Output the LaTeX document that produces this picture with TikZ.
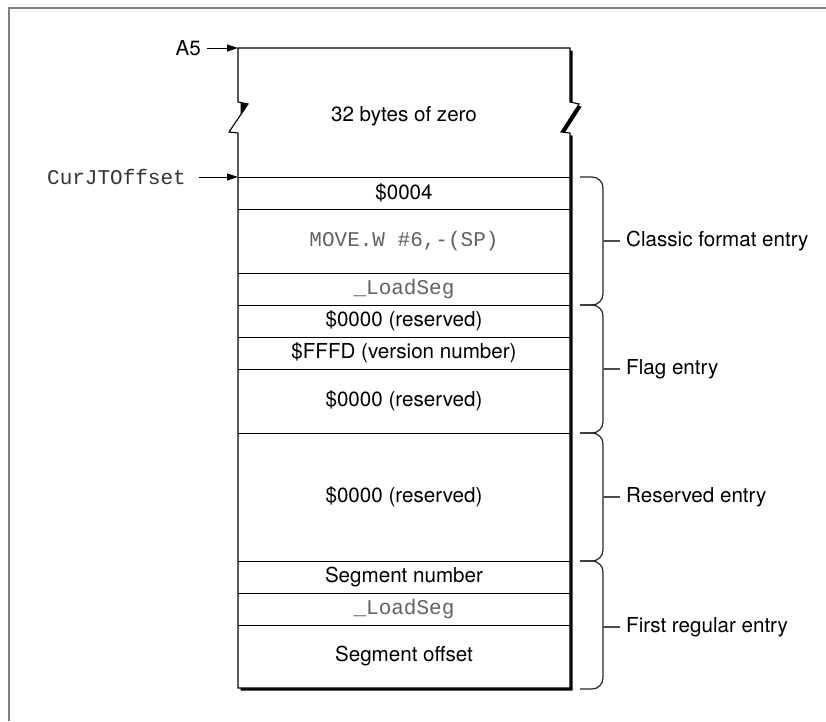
\documentclass[tikz,border=0pt]{standalone}
\usepackage{fontspec}
\setmainfont{TeX Gyre Heros}
\newfontfamily\monofont{Liberation Mono}
\usetikzlibrary{arrows.meta}
\begin{document}
\begin{tikzpicture}[x=1pt,y=-1pt,
  frameline/.style={draw=black!50,line width=1.4pt},
  boxline/.style={draw=black,line width=1.1pt},
  sepline/.style={draw=black,line width=0.9pt},
  celltext/.style={font=\fontsize{20.6}{22}\selectfont,inner sep=0pt,text=black},
  monotext/.style={font=\monofont\fontsize{21}{22}\selectfont,inner sep=0pt,text=black!62},
  ptrarrow/.style={draw=black,line width=1pt,-{Triangle[length=11pt,width=7pt]}},
  bracepath/.style={draw=black!85,line width=1.2pt,rounded corners=11pt},
  bracetip/.style={draw=black!70,line width=1.2pt},
  entrytext/.style={font=\fontsize{20.6}{22}\selectfont,inner sep=0pt,anchor=west}]
\useasboundingbox (0,0) rectangle (826,721);
% outer frame
\draw[frameline] (8,8) -- (826,8);
\draw[frameline] (9,8) -- (9,721);
% shadow
\fill[black,shift={(2.6,2.6)}] (238,48) -- (570,48) -- (570,102) -- (579,104) -- (561,132) -- (570,133) -- (570,688) -- (238,688) -- cycle;
% box outline
\filldraw[boxline,fill=white,line join=miter] (238,48) -- (570,48) -- (570,102) -- (579,104) -- (561,132) -- (570,133) -- (570,688) -- (238,688) -- (238,133) -- (229,132) -- (248,104) -- (238,102) -- cycle;
% separators
\foreach \yy in {177,209,273,305,337,369,433,561,593,625}
  \draw[sepline] (238,\yy) -- (570,\yy);
% cells
\node[celltext] (zero) at (404,116) {32 bytes of zero};
\node[celltext] (c1) at (404,193) {\$0004};
\node[monotext] (c2) at (404,241) {MOVE.W \#6,-(SP)};
\node[monotext] (c3) at (404,289) {\_LoadSeg};
\node[celltext] (f1) at (404,321) {\$0000 (reserved)};
\node[celltext] (f2) at (404,353) {\$FFFD (version number)};
\node[celltext] (f3) at (404,401) {\$0000 (reserved)};
\node[celltext] (r1) at (404,497) {\$0000 (reserved)};
\node[celltext] (s1) at (404,577) {Segment number};
\node[monotext] (s2) at (404,609) {\_LoadSeg};
\node[celltext] (s3) at (404,656) {Segment offset};
% pointers
\coordinate (a5pt) at (238,48);
\coordinate (jtpt) at (238,177);
\node[celltext,anchor=east] (a5) at (201,48) {A5};
\node[monotext,anchor=east,text=black!80] (jt) at (186,177) {CurJTOffset};
\draw[ptrarrow] ([xshift=6pt]a5.east) -- (a5pt);
\draw[ptrarrow] ([xshift=13pt]jt.east) -- (jtpt);
% braces
\foreach \ya/\yb/\ym/\nm/\txt in {177/305/241/classic/Classic format entry,305/433/369/flag/Flag entry,433/561/497/resv/Reserved entry,561/689/627/first/First regular entry}{
  \draw[bracepath] (580,\ya) -- (603,\ya) -- (603,\yb) -- (580,\yb);
  \node[entrytext] (\nm) at (626,\ym) {\txt};
  \draw[bracetip] (603,\ym) -- ([xshift=-6pt]\nm.west);
}
\end{tikzpicture}
\end{document}
